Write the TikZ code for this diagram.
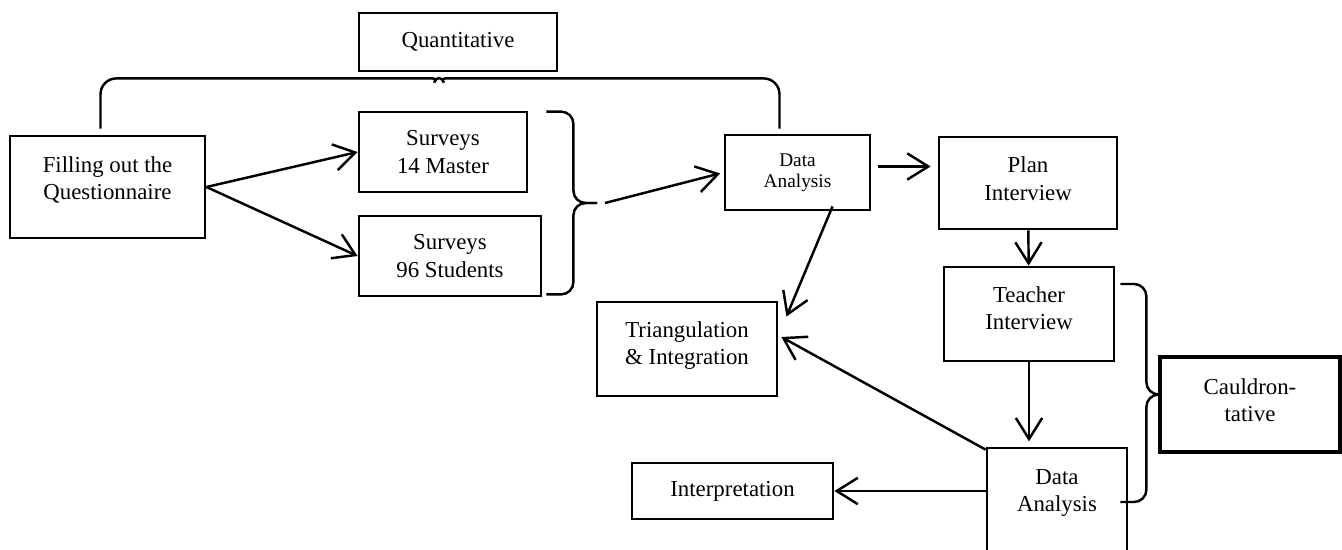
\documentclass[tikz,border=0pt]{standalone}
\usepackage{fontspec}
\setmainfont{Liberation Serif}
\usepackage{tikz}
\usetikzlibrary{arrows.meta, calc}

\begin{document}
\begin{tikzpicture}[
  x=0.02cm, y=-0.02cm,
  font=\fontsize{13}{15.5}\selectfont,
  box/.style={draw, line width=1.6pt, align=center, inner sep=2pt},
  arrow/.style={line width=1.4pt, -{Straight Barb[length=12pt,width=15pt]}},
  curly/.style={line width=1.4pt, rounded corners=7pt},
]
  \clip (0,0) rectangle (1342,549);

  % Quantitative part (left)
  \node[box, minimum width=3.9cm, minimum height=2.04cm, text depth=10pt] (fill) at (107.5,187) {Filling out the\\Questionnaire};
  \node[box, minimum width=3.96cm, minimum height=1.16cm] (quant) at (458,42) {Quantitative};
  \node[box, minimum width=3.36cm, minimum height=1.6cm] (s1) at (443,152) {Surveys\\14 Master};
  \node[box, minimum width=3.64cm, minimum height=1.6cm] (s2) at (450,256) {Surveys\\96 Students};
  \node[box, minimum width=2.9cm, minimum height=1.5cm, font=\fontsize{11}{12}\selectfont] (da1) at (797.5,172.5) {Data\\Analysis};
  \node[box, minimum width=3.6cm, minimum height=1.88cm, text depth=7pt] (tri) at (687,349) {Triangulation\\\& Integration};

  % Qualitative part (right)
  \node[box, minimum width=3.56cm, minimum height=1.84cm, text depth=5pt] (plan) at (1028,183) {Plan\\Interview};
  \node[box, minimum width=3.4cm, minimum height=1.88cm, text depth=7pt] (teach) at (1029,314) {Teacher\\Interview};
  \node[box, line width=2.2pt, minimum width=3.6cm, minimum height=1.9cm, text depth=5pt] (cauld) at (1250,404.5) {Cauldron-\\tative};
  \node[box, minimum width=2.8cm, minimum height=2.24cm, text depth=15pt] (da2) at (1057,504) {Data\\Analysis};
  \node[box, minimum width=4.02cm, minimum height=1.12cm] (interp) at (732.5,491) {Interpretation};

  % Braces
  \coordinate (qtip) at ([shift={(-19,-1)}]quant.south);
  \draw[curly, rounded corners=9pt] ([shift={(-7,-6)}]fill.north) |- ([shift={(-11,7)}]qtip);
  \draw[curly] ([shift={(-11,7)}]qtip) .. controls ([shift={(-3,7)}]qtip) .. (qtip)
    .. controls ([shift={(3,7)}]qtip) .. ([shift={(11,7)}]qtip);
  \draw[curly, rounded corners=9pt] ([shift={(11,7)}]qtip) -| ([shift={(-18,-5)}]da1.north);
  \coordinate (mtip) at (597,203);
  \draw[curly] ([shift={(18,1)}]s1.north east) -- ++(27,0) |- (mtip);
  \draw[curly] ([shift={(4,-3)}]s2.south east) -- ++(27,0) |- (mtip);
  \coordinate (rtip) at ([shift={(0,-10)}]cauld.west);
  \draw[curly] ([shift={(5,-30)}]teach.east) -- ++(26,0) |- (rtip);
  \draw[curly] ([shift={(-8,-2)}]da2.east) -- ++(26,0) |- (rtip);

  % Arrows
  \draw[arrow] (fill.east) -- (s1.west);
  \draw[arrow] (fill.east) -- (s2.west);
  \draw[arrow, shorten >=2pt] ([shift={(8,0)}]mtip) -- (da1.west);
  \draw[arrow] ($(da1.east)+(7,-6)$) -- ($(da1.east -| plan.west)+(-7,-6)$);
  \draw[arrow] (plan) -- (teach);
  \draw[arrow, shorten >=3pt] (teach.south) -- (teach.south |- da2.north);
  \draw[arrow] ([shift={(35,-5)}]da1.south) -- ([shift={(8,16)}]tri.north east);
  \draw[arrow] ([shift={(0,3)}]da2.north west) -- ([shift={(3,-12)}]tri.east);
  \draw[arrow] (interp.east -| da2.west) -- (interp.east);
\end{tikzpicture}
\end{document}
